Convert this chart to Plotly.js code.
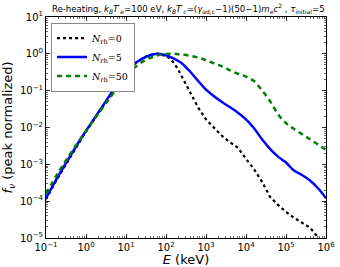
<!DOCTYPE html>
<html>
<head>
<meta charset="utf-8">
<script src="https://cdn.plot.ly/plotly-3.0.1.min.js"></script>
<style>html,body{margin:0;padding:0;background:#fff;}#chart{width:340px;height:267px;}</style>
</head>
<body>
<div id="chart"></div>
<script>
// Photon energy grid (keV)
const energy_keV = [0.1, 0.2, 0.4, 0.8, 1.6, 3.2, 6.3, 12.6, 20, 31.6, 50, 63, 79, 100, 126, 158, 200, 251, 398, 631,
  1000, 1585, 2512, 3981, 6310, 10000, 15850, 25120, 39810, 63100, 100000, 158500, 251200, 398100, 631000, 1000000];

// log10 of peak-normalized f_nu (decades)
const log10f_Nrh0 = [-3.95, -3.36, -2.82, -2.28, -1.78, -1.29, -0.82, -0.38, -0.20, -0.07, 0.0, 0.0, -0.02, -0.06, -0.13, -0.25, -0.42, -0.62, -1.03, -1.45,
  -1.78, -2.02, -2.23, -2.40, -2.55, -2.85, -3.13, -3.47, -3.88, -4.10, -4.29, -4.45, -4.58, -4.72, -4.98, -5.30];
const log10f_Nrh5 = [-3.92, -3.33, -2.78, -2.25, -1.76, -1.27, -0.80, -0.36, -0.20, -0.08, -0.01, 0.0, -0.01, -0.04, -0.08, -0.13, -0.19, -0.26, -0.48, -0.73,
  -0.97, -1.15, -1.31, -1.45, -1.60, -1.78, -2.02, -2.32, -2.58, -2.79, -2.95, -3.17, -3.29, -3.44, -3.65, -3.92];
const log10f_Nrh50 = [-3.80, -3.23, -2.72, -2.24, -1.78, -1.33, -0.90, -0.48, -0.30, -0.16, -0.07, -0.04, -0.02, -0.005, 0.0, 0.0, -0.01, -0.02, -0.05, -0.10,
  -0.17, -0.26, -0.34, -0.45, -0.54, -0.62, -0.74, -0.99, -1.28, -1.64, -1.88, -2.04, -2.18, -2.32, -2.46, -2.61];

const seriesNames = ['<i>N</i><sub>rh</sub>=0', '<i>N</i><sub>rh</sub>=5', '<i>N</i><sub>rh</sub>=50'];

const xTickVals = [0.1, 1, 10, 100, 1000, 10000, 100000, 1000000];
const xTickText = ['10<sup>−1</sup>', '10<sup>0</sup>', '10<sup>1</sup>', '10<sup>2</sup>', '10<sup>3</sup>', '10<sup>4</sup>', '10<sup>5</sup>', '10<sup>6</sup>'];
const yTickVals = [1e-5, 1e-4, 1e-3, 1e-2, 1e-1, 1, 10];
const yTickText = ['10<sup>−5</sup>', '10<sup>−4</sup>', '10<sup>−3</sup>', '10<sup>−2</sup>', '10<sup>−1</sup>', '10<sup>0</sup>', '10<sup>1</sup>'];

const toLinear = a => a.map(v => Math.pow(10, v));

const traces = [
  {x: energy_keV, y: toLinear(log10f_Nrh0), name: seriesNames[0], mode: 'lines',
   line: {color: '#000000', width: 2.2, dash: 'dot'}},
  {x: energy_keV, y: toLinear(log10f_Nrh5), name: seriesNames[1], mode: 'lines',
   line: {color: '#0000ff', width: 2.5, shape: 'spline'}},
  {x: energy_keV, y: toLinear(log10f_Nrh50), name: seriesNames[2], mode: 'lines',
   line: {color: '#008000', width: 2.5, dash: '5px,4px', shape: 'spline'}}
];

const axisCommon = {
  type: 'log', showgrid: false, zeroline: false, showline: true, linecolor: '#000', linewidth: 1,
  mirror: 'allticks', ticks: 'inside', ticklen: 4, tickwidth: 0.8, tickcolor: '#000',
  tickfont: {family: 'DejaVu Sans', size: 10, color: '#000'},
  minor: {ticks: 'inside', ticklen: 2, tickwidth: 0.6, tickcolor: '#000', dtick: 'D1', showgrid: false}
};

const layout = {
  width: 340, height: 267,
  margin: {l: 46, r: 14, t: 17, b: 29},
  paper_bgcolor: '#fff', plot_bgcolor: '#fff',
  showlegend: true,
  title: {
    text: 'Re-heating, <i>k<sub>B</sub>T′<sub>e</sub></i>=100 eV, <i>k<sub>B</sub>T′<sub>c</sub></i>=(<i>γ</i><sub>ad,c</sub>−1)(50−1)<i>m<sub>e</sub>c</i><sup>2</sup> , <i>τ</i><sub>initial</sub>=5',
    font: {family: 'DejaVu Sans', size: 8.6, color: '#000'},
    x: 0.021, xref: 'paper', xanchor: 'left', y: 0.966, yref: 'container', yanchor: 'middle'
  },
  xaxis: Object.assign({}, axisCommon, {
    range: [-1, 6], tickvals: xTickVals, ticktext: xTickText,
    title: {text: '<i>E</i> (keV)', font: {family: 'DejaVu Sans', size: 13, color: '#000'}, standoff: 2}
  }),
  yaxis: Object.assign({}, axisCommon, {
    range: [-5, 1], tickvals: yTickVals, ticktext: yTickText,
    title: {text: '<i>f<sub>ν</sub></i> (peak normalized)', font: {family: 'DejaVu Sans', size: 13, color: '#000'}, standoff: 4}
  }),
  legend: {
    x: 0.018, y: 0.975, xanchor: 'left', yanchor: 'top',
    bgcolor: '#fff', bordercolor: '#888', borderwidth: 1,
    font: {family: 'DejaVu Serif', size: 9.5, color: '#000'},
    itemwidth: 30, tracegroupgap: 0
  }
};

Plotly.newPlot('chart', traces, layout, {staticPlot: true, displayModeBar: false});
</script>
</body>
</html>
